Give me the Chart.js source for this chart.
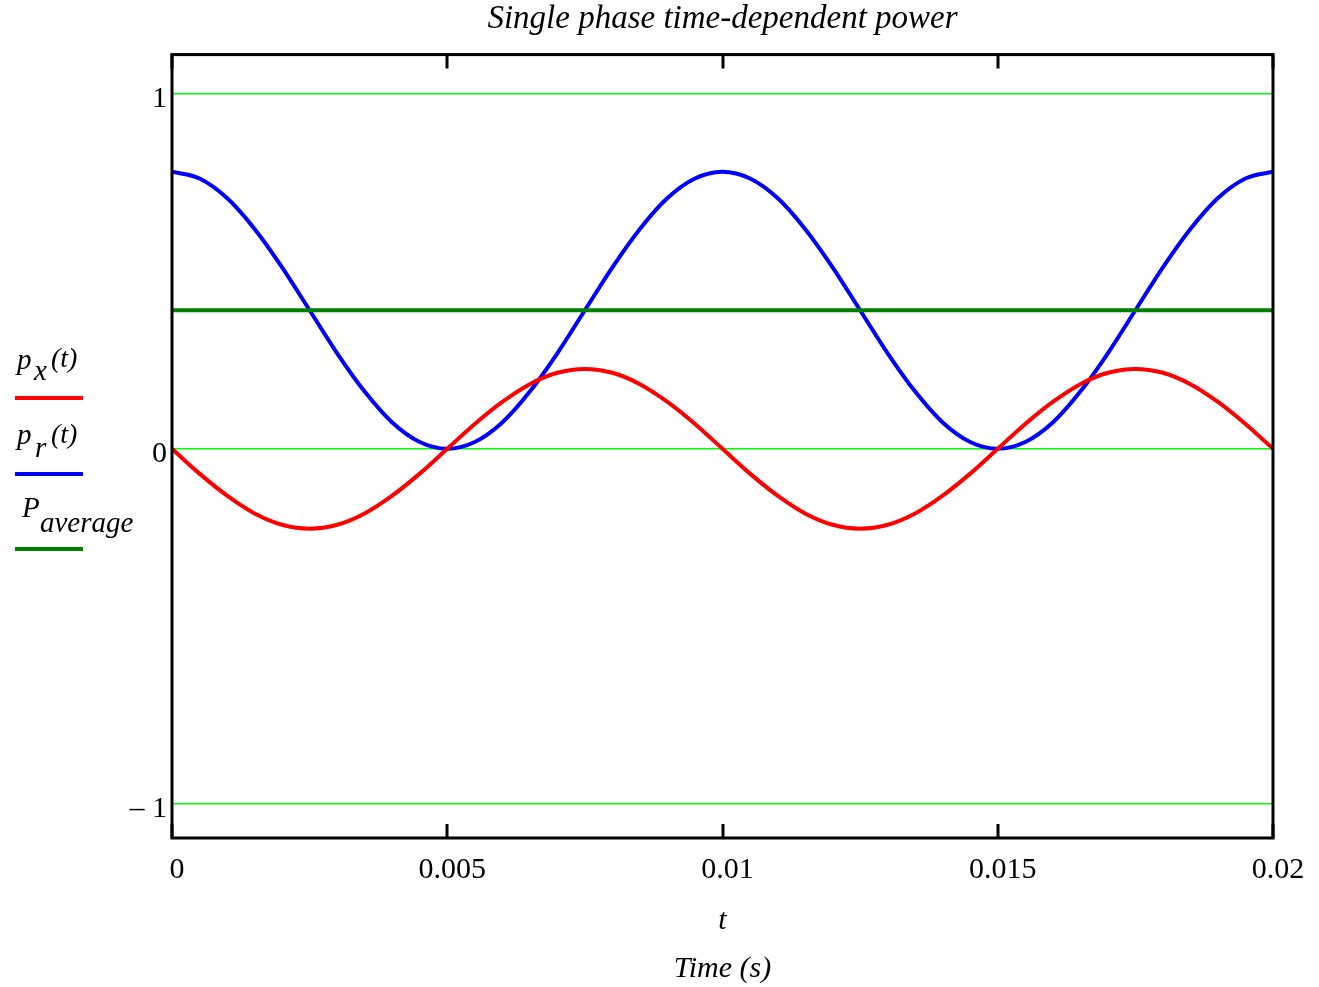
<!DOCTYPE html>
<html>
<head>
<meta charset="utf-8">
<script src="https://cdn.jsdelivr.net/npm/chart.js@4.4.1/dist/chart.umd.min.js"></script>
<style>
  html, body { margin: 0; padding: 0; background: #fff; }
  #wrap { width: 1319px; height: 987px; }
</style>
</head>
<body>
<div id="wrap"><canvas id="chart" width="1319" height="987"></canvas></div>
<script>
// time samples (s) and the two traces
const timeS = [
  0, 0.0005, 0.001, 0.0015, 0.002, 0.0025, 0.003, 0.0035, 0.004, 0.0045,
  0.005, 0.0055, 0.006, 0.0065, 0.007, 0.0075, 0.008, 0.0085, 0.009, 0.0095,
  0.01, 0.0105, 0.011, 0.0115, 0.012, 0.0125, 0.013, 0.0135, 0.014, 0.0145,
  0.015, 0.0155, 0.016, 0.0165, 0.017, 0.0175, 0.018, 0.0185, 0.019, 0.0195,
  0.02
];
const pxValues = [
  0, -0.07, -0.132, -0.182, -0.214, -0.225, -0.214, -0.182, -0.132, -0.07,
  0, 0.07, 0.132, 0.182, 0.214, 0.225, 0.214, 0.182, 0.132, 0.07,
  0, -0.07, -0.132, -0.182, -0.214, -0.225, -0.214, -0.182, -0.132, -0.07,
  0, 0.07, 0.132, 0.182, 0.214, 0.225, 0.214, 0.182, 0.132, 0.07,
  0
];
const prValues = [
  0.78, 0.761, 0.706, 0.619, 0.511, 0.39, 0.269, 0.161, 0.074, 0.019,
  0, 0.019, 0.074, 0.161, 0.269, 0.39, 0.511, 0.619, 0.706, 0.761,
  0.78, 0.761, 0.706, 0.619, 0.511, 0.39, 0.269, 0.161, 0.074, 0.019,
  0, 0.019, 0.074, 0.161, 0.269, 0.39, 0.511, 0.619, 0.706, 0.761,
  0.78
];
const avgTimes = [0, 0.02];
const avgValues = [0.39, 0.39];

const xTicks = [0, 0.005, 0.01, 0.015, 0.02];
const xTickLabels = ['0', '0.005', '0.01', '0.015', '0.02'];
const yTicks = [-1, 0, 1];
const yTickLabels = ['\u2013 1', '0', '1'];

const SERIF = '"Liberation Serif", "Times New Roman", serif';

const toPoints = (xs, ys) => xs.map((x, i) => ({ x, y: ys[i] }));

// ---------------- frame + inner tick marks ----------------
const framePlugin = {
  id: 'frame',
  afterDatasetsDraw(chart) {
    const { ctx, chartArea: a, scales } = chart;
    ctx.save();
    ctx.strokeStyle = '#000';
    ctx.lineWidth = 3;
    ctx.strokeRect(a.left, a.top, a.right - a.left, a.bottom - a.top);
    xTicks.forEach(v => {
      const px = Math.round(scales.x.getPixelForValue(v));
      ctx.beginPath();
      ctx.moveTo(px, a.top);
      ctx.lineTo(px, a.top + 14);
      ctx.moveTo(px, a.bottom);
      ctx.lineTo(px, a.bottom - 14);
      ctx.stroke();
    });
    ctx.restore();
  }
};

// ---------------- Mathcad style legend on the left ----------------
const legendPlugin = {
  id: 'mathLegend',
  afterDraw(chart) {
    const ctx = chart.ctx;
    ctx.save();
    ctx.fillStyle = '#000';
    ctx.textBaseline = 'alphabetic';
    ctx.textAlign = 'left';

    ctx.font = 'italic 29px ' + SERIF;
    ctx.fillText('p', 17, 369);
    ctx.fillText('x', 34, 380);
    ctx.font = 'italic 28px ' + SERIF;
    ctx.fillText('(t)', 51, 367);

    ctx.font = 'italic 29px ' + SERIF;
    ctx.fillText('p', 17, 444);
    ctx.fillText('r', 35, 457);
    ctx.font = 'italic 28px ' + SERIF;
    ctx.fillText('(t)', 51, 443);

    ctx.font = 'italic 29px ' + SERIF;
    ctx.fillText('P', 22, 517);
    ctx.fillText('average', 40, 532);

    const swatches = [['#ff0000', 398], ['#0000ff', 474], ['#008000', 549]];
    ctx.lineWidth = 4;
    swatches.forEach(([c, y]) => {
      ctx.strokeStyle = c;
      ctx.beginPath();
      ctx.moveTo(15, y);
      ctx.lineTo(83, y);
      ctx.stroke();
    });
    ctx.restore();
  }
};

new Chart(document.getElementById('chart'), {
  type: 'line',
  data: {
    datasets: [
      {
        label: 'P average',
        data: toPoints(avgTimes, avgValues),
        borderColor: '#008000',
        borderWidth: 4,
        pointRadius: 0,
        order: 0
      },
      {
        label: 'px(t)',
        data: toPoints(timeS, pxValues),
        borderColor: '#ff0000',
        borderWidth: 4,
        pointRadius: 0,
        cubicInterpolationMode: 'monotone',
        order: 1
      },
      {
        label: 'pr(t)',
        data: toPoints(timeS, prValues),
        borderColor: '#0000ff',
        borderWidth: 4,
        pointRadius: 0,
        cubicInterpolationMode: 'monotone',
        order: 2
      }
    ]
  },
  options: {
    responsive: false,
    animation: false,
    layout: { padding: { left: 0, right: 46, top: 0, bottom: 0 } },
    plugins: {
      legend: { display: false },
      tooltip: { enabled: false },
      title: {
        display: true,
        text: 'Single phase time-dependent power',
        color: '#000',
        fullSize: false,
        font: { family: SERIF, size: 33, style: 'italic', weight: 'normal', lineHeight: 1.2 },
        padding: { top: 0, bottom: 15 }
      }
    },
    scales: {
      x: {
        type: 'linear',
        min: 0,
        max: 0.02,
        afterBuildTicks: s => { s.ticks = xTicks.map(v => ({ value: v })); },
        afterFit: s => { s.height = 149; },
        grid: { display: false, drawTicks: false },
        border: { display: false },
        ticks: {
          callback: (v, i) => xTickLabels[i],
          color: '#000',
          font: { family: SERIF, size: 30 },
          padding: 14,
          labelOffset: 5,
          maxRotation: 0
        },
        title: {
          display: true,
          text: ['t', 'Time (s)'],
          color: '#000',
          font: { family: SERIF, size: 30, style: 'italic', lineHeight: '48px' },
          padding: { top: 0, bottom: -6 }
        }
      },
      y: {
        min: -1.096,
        max: 1.11,
        afterBuildTicks: s => { s.ticks = yTicks.map(v => ({ value: v })); },
        afterFit: s => { s.width = 172; },
        grid: { color: '#00ff00', lineWidth: 1.5, drawTicks: false },
        border: { display: false },
        ticks: {
          callback: (v, i) => yTickLabels[i],
          color: '#000',
          font: { family: SERIF, size: 30 },
          padding: 5,
          labelOffset: 5
        }
      }
    }
  },
  plugins: [framePlugin, legendPlugin]
});
</script>
</body>
</html>
